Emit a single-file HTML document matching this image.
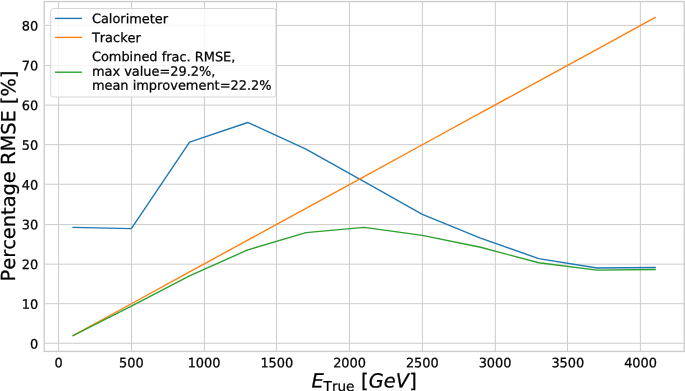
<!DOCTYPE html>
<html><head><meta charset="utf-8"><title>Percentage RMSE</title>
<style>
html,body{margin:0;padding:0;background:#fff;}
svg{display:block;}
text{font-family:"DejaVu Sans","Liberation Sans",sans-serif;fill:#000000;font-kerning:none;text-rendering:geometricPrecision;}
.t{font-size:12.93px;stroke:#000000;stroke-width:0.25px;}
.l{font-size:19.4px;stroke:#000000;stroke-width:0.25px;}
.i{font-style:oblique;}
</style></head><body>
<svg width="685" height="391" viewBox="0 0 685 391">
<rect x="0" y="0" width="685" height="391" fill="#ffffff"/>
<g stroke="#cccccc" stroke-width="1.0"><line x1="58.57" y1="1.55" x2="58.57" y2="351.42"/><line x1="131.49" y1="1.55" x2="131.49" y2="351.42"/><line x1="204.41" y1="1.55" x2="204.41" y2="351.42"/><line x1="276.56" y1="1.55" x2="276.56" y2="351.42"/><line x1="349.48" y1="1.55" x2="349.48" y2="351.42"/><line x1="422.40" y1="1.55" x2="422.40" y2="351.42"/><line x1="495.33" y1="1.55" x2="495.33" y2="351.42"/><line x1="567.47" y1="1.55" x2="567.47" y2="351.42"/><line x1="640.39" y1="1.55" x2="640.39" y2="351.42"/><line x1="44.22" y1="343.28" x2="684.22" y2="343.28"/><line x1="44.22" y1="303.71" x2="684.22" y2="303.71"/><line x1="44.22" y1="264.15" x2="684.22" y2="264.15"/><line x1="44.22" y1="224.58" x2="684.22" y2="224.58"/><line x1="44.22" y1="184.24" x2="684.22" y2="184.24"/><line x1="44.22" y1="144.68" x2="684.22" y2="144.68"/><line x1="44.22" y1="105.12" x2="684.22" y2="105.12"/><line x1="44.22" y1="65.55" x2="684.22" y2="65.55"/><line x1="44.22" y1="25.40" x2="684.22" y2="25.40"/></g>
<polyline points="73.15,227.42 131.35,228.61 189.55,142.16 247.74,122.48 305.94,149.11 364.14,181.71 422.33,214.30 480.53,238.16 538.73,258.63 596.93,267.97 655.12,267.57" fill="none" stroke="#1f77b4" stroke-width="1.4" stroke-linejoin="round" stroke-linecap="square"/>
<polyline points="73.15,335.54 131.35,303.74 189.55,271.94 247.74,240.14 305.94,208.34 364.14,176.54 422.33,144.74 480.53,112.94 538.73,81.14 596.93,49.34 655.12,17.54" fill="none" stroke="#ff7f0e" stroke-width="1.4" stroke-linejoin="round" stroke-linecap="square"/>
<polyline points="73.15,335.54 131.35,306.13 189.55,275.92 247.74,249.88 305.94,232.59 364.14,227.42 422.33,235.37 480.53,247.30 538.73,262.80 596.93,270.15 655.12,269.56" fill="none" stroke="#2ca02c" stroke-width="1.4" stroke-linejoin="round" stroke-linecap="square"/>
<rect x="44.22" y="1.55" width="640.01" height="349.87" fill="none" stroke="#cccccc" stroke-width="1.35"/>
<text class="t" transform="translate(58.60,367.25) rotate(0.05)" text-anchor="middle">0</text>
<text class="t" transform="translate(131.35,367.25) rotate(0.05)" text-anchor="middle">500</text>
<text class="t" transform="translate(204.09,367.25) rotate(0.05)" text-anchor="middle">1000</text>
<text class="t" transform="translate(276.84,367.25) rotate(0.05)" text-anchor="middle">1500</text>
<text class="t" transform="translate(349.59,367.25) rotate(0.05)" text-anchor="middle">2000</text>
<text class="t" transform="translate(422.33,367.25) rotate(0.05)" text-anchor="middle">2500</text>
<text class="t" transform="translate(495.08,367.25) rotate(0.05)" text-anchor="middle">3000</text>
<text class="t" transform="translate(567.83,367.25) rotate(0.05)" text-anchor="middle">3500</text>
<text class="t" transform="translate(640.57,367.25) rotate(0.05)" text-anchor="middle">4000</text>
<text class="t" transform="translate(38.2,348.54) rotate(0.05)" text-anchor="end">0</text>
<text class="t" transform="translate(38.2,308.79) rotate(0.05)" text-anchor="end">10</text>
<text class="t" transform="translate(38.2,269.04) rotate(0.05)" text-anchor="end">20</text>
<text class="t" transform="translate(38.2,229.29) rotate(0.05)" text-anchor="end">30</text>
<text class="t" transform="translate(38.2,189.54) rotate(0.05)" text-anchor="end">40</text>
<text class="t" transform="translate(38.2,149.79) rotate(0.05)" text-anchor="end">50</text>
<text class="t" transform="translate(38.2,110.04) rotate(0.05)" text-anchor="end">60</text>
<text class="t" transform="translate(38.2,70.29) rotate(0.05)" text-anchor="end">70</text>
<text class="t" transform="translate(38.2,30.54) rotate(0.05)" text-anchor="end">80</text>
<text class="l i" transform="translate(311.5,387.5) rotate(0.05)">E</text>
<text transform="translate(323.6,390.9) rotate(0.05)" font-size="13.58" stroke="#000000" stroke-width="0.25">True</text>
<text class="l" transform="translate(361.0,387.5) rotate(0.05)">[</text>
<text class="l i" transform="translate(368.7,387.5) rotate(0.05)">GeV</text>
<text class="l" transform="translate(409.3,387.5) rotate(0.05)">]</text>
<text class="l" transform="translate(15.1,176.0) rotate(-89.95)" text-anchor="middle">Percentage RMSE [%]</text>
<rect x="50.7" y="8.5" width="225.3" height="88.5" rx="2.6" ry="2.6" fill="#ffffff" fill-opacity="0.8" stroke="#cccccc" stroke-opacity="0.8" stroke-width="1"/>
<line x1="55.0" y1="18.4" x2="82.05" y2="18.4" stroke="#1f77b4" stroke-width="1.4"/>
<line x1="55.0" y1="37.4" x2="82.05" y2="37.4" stroke="#ff7f0e" stroke-width="1.4"/>
<line x1="55.0" y1="72.2" x2="82.05" y2="72.2" stroke="#2ca02c" stroke-width="1.4"/>
<text class="t" transform="translate(91.9,23.1) rotate(0.05)">Calorimeter</text>
<text class="t" transform="translate(91.9,42.1) rotate(0.05)">Tracker</text>
<text class="t" transform="translate(91.9,61.06) rotate(0.05)">Combined frac. RMSE,</text>
<text class="t" transform="translate(91.9,75.66) rotate(0.05)">max value=29.2%,</text>
<text class="t" transform="translate(91.9,89.67) rotate(0.05)">mean improvement=22.2%</text>
</svg></body></html>
